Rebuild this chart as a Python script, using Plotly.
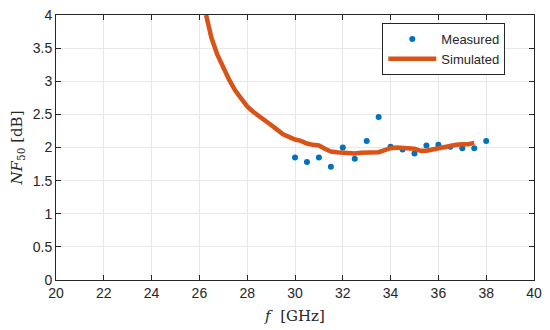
import plotly.graph_objects as go

meas_f = [30.0, 30.5, 31.0, 31.5, 32.0, 32.5, 33.0, 33.5, 34.0, 34.5, 35.0, 35.5, 36.0, 36.5, 37.0, 37.5, 38.0]
meas_nf = [1.85, 1.78, 1.85, 1.71, 2.00, 1.83, 2.10, 2.46, 2.01, 1.97, 1.91, 2.03, 2.04, 2.01, 1.99, 1.99, 2.10]

sim_f = [26.28, 26.5, 26.75, 27.0, 27.25, 27.5, 27.75, 28.0, 28.25, 28.5, 28.75, 29.0, 29.25, 29.5,
         29.75, 30.0, 30.25, 30.5, 30.75, 31.0, 31.25, 31.5, 31.75, 32.0, 32.25, 32.5, 32.75, 33.0,
         33.25, 33.5, 33.75, 34.0, 34.25, 34.5, 34.75, 35.0, 35.25, 35.5, 35.75, 36.0, 36.25, 36.5,
         36.75, 37.0, 37.25, 37.5]
sim_nf = [4.0, 3.66, 3.40, 3.20, 3.02, 2.86, 2.73, 2.62, 2.54, 2.48, 2.42, 2.34, 2.27, 2.20,
          2.16, 2.12, 2.10, 2.06, 2.04, 2.03, 1.98, 1.94, 1.93, 1.92, 1.92, 1.91, 1.92, 1.92,
          1.92, 1.93, 1.96, 1.99, 2.00, 1.99, 1.99, 1.98, 1.95, 1.95, 1.97, 1.99, 2.01, 2.03,
          2.04, 2.05, 2.05, 2.07]

x_ticks = list(range(20, 41, 2))
y_ticks = [0, 0.5, 1, 1.5, 2, 2.5, 3, 3.5, 4]

fig = go.Figure()
fig.add_trace(go.Scatter(x=meas_f, y=meas_nf, mode="markers", name="Measured",
                         marker=dict(color="#0072BD", size=6)))
fig.add_trace(go.Scatter(x=sim_f, y=sim_nf, mode="lines", name="Simulated",
                         line=dict(color="#D95319", width=4.5)))

axis_common = dict(showline=True, mirror="ticks", linecolor="#262626", linewidth=1,
                   ticks="inside", ticklen=5, tickcolor="#262626", automargin=False,
                   ticklabeloverflow="allow",
                   showgrid=True, gridcolor="#e8e8e8", gridwidth=1, zeroline=False,
                   tickfont=dict(family="Liberation Sans, Arial, sans-serif", size=14, color="#262626"))

fig.update_layout(
    width=550, height=330,
    margin=dict(l=48, r=24, t=7, b=58),
    paper_bgcolor="white", plot_bgcolor="white",
    xaxis=dict(range=[20, 40], tickvals=x_ticks, ticktext=[str(v) for v in x_ticks],
               title=dict(text="<i>f</i>  [GHz]", standoff=10,
                          font=dict(family="DejaVu Serif, Liberation Serif, serif", size=15, color="#262626")),
               **axis_common),
    yaxis=dict(range=[0, 4], tickvals=y_ticks, ticktext=[str(v) for v in y_ticks],
               title=dict(text="<i>NF</i><sub>50</sub> [dB]", standoff=7,
                          font=dict(family="DejaVu Serif, Liberation Serif, serif", size=15, color="#262626")),
               **axis_common),
    legend=dict(x=0.94, y=0.97, xanchor="right", yanchor="top",
                bgcolor="white", bordercolor="#262626", borderwidth=1,
                font=dict(family="Liberation Sans, Arial, sans-serif", size=13, color="#262626"),
                tracegroupgap=0, itemwidth=48),
    showlegend=True,
)

fig.write_html("out.html")
